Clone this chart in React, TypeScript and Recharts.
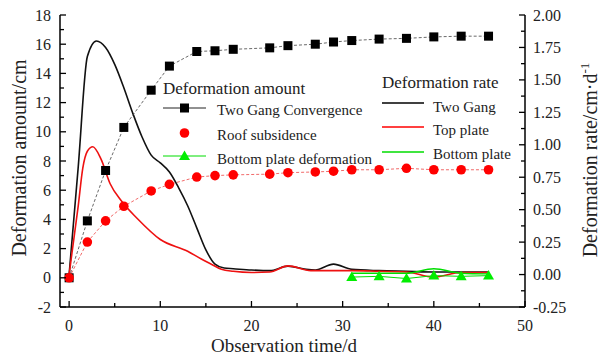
import { LineChart, Line, XAxis, YAxis } from "recharts"

document.body.style.margin = "0"

// measured deformation (left axis, cm)
const measureDays = [0, 2, 4, 6, 9, 11, 14, 16, 18, 22, 24, 27, 29, 31, 34, 37, 40, 43, 46]
const twoGangConvergence = [0, 3.9, 7.35, 10.3, 12.85, 14.5, 15.5, 15.55, 15.65, 15.75, 15.9, 16.0, 16.15, 16.25, 16.35, 16.4, 16.5, 16.55, 16.55]
const roofSubsidence = [0, 2.45, 3.9, 4.9, 5.95, 6.4, 6.9, 7.0, 7.05, 7.1, 7.2, 7.25, 7.3, 7.4, 7.4, 7.5, 7.4, 7.4, 7.4]
const bottomDays = [31, 34, 37, 40, 43, 46]
const bottomDeformation = [0.05, 0.1, -0.05, 0.15, 0.1, 0.15]

// deformation rate (right axis, cm/d)
const gangRateDays = [0, 1, 2, 3, 4, 5, 6, 7, 8, 9, 10, 11, 12, 13, 14, 15, 16, 17, 18, 20, 22, 24, 26, 27, 29, 31, 34, 37, 40, 43, 46]
const gangRate = [0, 0.83, 1.68, 1.8, 1.75, 1.62, 1.44, 1.24, 1.06, 0.92, 0.86, 0.79, 0.67, 0.53, 0.36, 0.19, 0.08, 0.05, 0.045, 0.035, 0.03, 0.065, 0.04, 0.035, 0.08, 0.04, 0.03, 0.025, 0.02, 0.02, 0.02]
const topRateDays = [0, 1, 1.5, 2, 2.6, 3.5, 4.5, 5.7, 7.5, 10, 13, 14.5, 15.6, 16.7, 18, 20, 22, 24, 26.5, 29, 31, 34, 37, 40, 43, 46]
const topRate = [0, 0.53, 0.82, 0.95, 0.985, 0.89, 0.7, 0.57, 0.43, 0.27, 0.18, 0.12, 0.08, 0.04, 0.025, 0.016, 0.02, 0.067, 0.03, 0.03, 0.03, 0.025, 0.02, -0.02, 0.016, 0.016]
const bottomRateDays = [31, 34, 37, 40, 43, 46]
const bottomRate = [0.01, 0.01, 0.01, 0.045, 0.01, 0.005]

// ticks
const xMajor = [0, 10, 20, 30, 40, 50]
const xTicks = [0, 5, 10, 15, 20, 25, 30, 35, 40, 45, 50]
const leftMajor = [-2, 0, 2, 4, 6, 8, 10, 12, 14, 16, 18]
const leftTicks = [-2, -1, 0, 1, 2, 3, 4, 5, 6, 7, 8, 9, 10, 11, 12, 13, 14, 15, 16, 17, 18]
const rightMajor = [-0.25, 0, 0.25, 0.5, 0.75, 1, 1.25, 1.5, 1.75, 2]
const rightTicks = [-0.25, -0.125, 0, 0.125, 0.25, 0.375, 0.5, 0.625, 0.75, 0.875, 1, 1.125, 1.25, 1.375, 1.5, 1.625, 1.75, 1.875, 2]

const pair = (xs: number[], ys: number[]) => xs.map((d, i) => ({ day: d, v: ys[i] }))

const convData = pair(measureDays, twoGangConvergence)
const roofData = pair(measureDays, roofSubsidence)
const bottomData = pair(bottomDays, bottomDeformation)
const gangRateData = pair(gangRateDays, gangRate)
const topRateData = pair(topRateDays, topRate)
const bottomRateData = pair(bottomRateDays, bottomRate)

const FONT = "'Liberation Serif', 'Times New Roman', serif"

function XTick({ x, y, payload }: any) {
  const major = xMajor.includes(payload.value)
  return (
    <g>
      <line x1={x} x2={x} y1={y} y2={y - (major ? 6 : 4)} stroke="#000" strokeWidth={1.3} />
      {major && (
        <text x={x} y={y + 24} textAnchor="middle" fontFamily={FONT} fontSize={16} fill="#222">
          {payload.value}
        </text>
      )}
    </g>
  )
}

function LeftTick({ x, y, payload }: any) {
  const major = leftMajor.includes(payload.value)
  return (
    <g>
      <line x1={x} x2={x + (major ? 6 : 4)} y1={y} y2={y} stroke="#000" strokeWidth={1.3} />
      {major && (
        <text x={x - 9} y={y + 5.5} textAnchor="end" fontFamily={FONT} fontSize={16} fill="#222">
          {payload.value}
        </text>
      )}
    </g>
  )
}

function RightTick({ x, y, payload }: any) {
  const major = rightMajor.includes(payload.value)
  return (
    <g>
      <line x1={x} x2={x - (major ? 6 : 4)} y1={y} y2={y} stroke="#000" strokeWidth={1.3} />
      {major && (
        <text x={x + 8} y={y + 5.5} textAnchor="start" fontFamily={FONT} fontSize={16} fill="#222">
          {payload.value.toFixed(2)}
        </text>
      )}
    </g>
  )
}

const squareDot = (p: any) => (
  <rect key={`s${p.index}`} x={p.cx - 4.5} y={p.cy - 4.5} width={9} height={9} fill="#000" />
)
const circleDot = (p: any) => (
  <circle key={`c${p.index}`} cx={p.cx} cy={p.cy} r={4.8} fill="#ff0000" />
)
const triangleDot = (p: any) => (
  <polygon
    key={`t${p.index}`}
    points={`${p.cx},${p.cy - 5.5} ${p.cx - 5.5},${p.cy + 4} ${p.cx + 5.5},${p.cy + 4}`}
    fill="#00ee00"
  />
)

function Overlay() {
  const t = { fontFamily: FONT, fill: "#222" }
  return (
    <svg width={600} height={360} style={{ position: "absolute", left: 0, top: 0, pointerEvents: "none" }}>
      {/* axis titles */}
      <text {...t} x={284} y={352} fontSize={19} textAnchor="middle">Observation time/d</text>
      <text {...t} x={26} y={158} fontSize={20} textAnchor="middle" transform="rotate(-90 26 158)">
        Deformation amount/cm
      </text>
      <text {...t} x={597} y={160} fontSize={20} textAnchor="middle" transform="rotate(-90 597 160)">
        Deformation rate/cm·d<tspan fontSize={13} dy={-8}>-1</tspan>
      </text>

      {/* left legend */}
      <text {...t} x={163} y={94} fontSize={17}>Deformation amount</text>
      <line x1={163} x2={206} y1={108} y2={108} stroke="#222" strokeWidth={1} />
      <rect x={180} y={103.5} width={9} height={9} fill="#000" />
      <text {...t} x={217} y={115} fontSize={15}>Two Gang Convergence</text>
      <circle cx={184.5} cy={133} r={4.8} fill="#ff0000" />
      <text {...t} x={217} y={140} fontSize={15}>Roof subsidence</text>
      <line x1={163} x2={206} y1={156} y2={156} stroke="#00dd00" strokeWidth={1} />
      <polygon points="184.5,150.5 179,160 190,160" fill="#00ee00" />
      <text {...t} x={217} y={164} fontSize={15}>Bottom plate deformation</text>

      {/* right legend */}
      <text {...t} x={382} y={88} fontSize={17}>Deformation rate</text>
      <line x1={382} x2={424} y1={103} y2={103} stroke="#000" strokeWidth={1.5} />
      <text {...t} x={433} y={112} fontSize={15}>Two Gang</text>
      <line x1={382} x2={424} y1={127} y2={127} stroke="#ff0000" strokeWidth={1.5} />
      <text {...t} x={433} y={135} fontSize={15}>Top plate</text>
      <line x1={382} x2={424} y1={152} y2={152} stroke="#00dd00" strokeWidth={1.5} />
      <text {...t} x={433} y={159} fontSize={15}>Bottom plate</text>
    </svg>
  )
}

export default function App() {
  return (
    <div style={{ position: "relative", width: 600, height: 360, background: "#fff" }}>
      <LineChart width={600} height={360} margin={{ top: 15, right: 35, left: 20, bottom: 23 }}>
        <XAxis
          dataKey="day"
          type="number"
          domain={[-1, 50]}
          ticks={xTicks}
          interval={0}
          tickSize={0}
          tickMargin={0}
          tickLine={false}
          tick={<XTick />}
          height={30}
          axisLine={{ stroke: "#000", strokeWidth: 1.5 }}
          allowDuplicatedCategory={false}
        />
        <YAxis
          yAxisId="left"
          type="number"
          domain={[-2, 18]}
          ticks={leftTicks}
          interval={0}
          tickSize={0}
          tickMargin={0}
          tickLine={false}
          tick={<LeftTick />}
          width={40}
          axisLine={{ stroke: "#000", strokeWidth: 1.5 }}
        />
        <YAxis
          yAxisId="right"
          orientation="right"
          type="number"
          domain={[-0.25, 2]}
          ticks={rightTicks}
          interval={0}
          tickSize={0}
          tickMargin={0}
          tickLine={false}
          tick={<RightTick />}
          width={40}
          axisLine={{ stroke: "#000", strokeWidth: 1.5 }}
        />

        <Line yAxisId="right" data={gangRateData} dataKey="v" type="monotone" stroke="#111" strokeWidth={1.6} dot={false} isAnimationActive={false} />
        <Line yAxisId="right" data={topRateData} dataKey="v" type="monotone" stroke="#ee1111" strokeWidth={1.6} dot={false} isAnimationActive={false} />
        <Line yAxisId="right" data={bottomRateData} dataKey="v" type="monotone" stroke="#00dd00" strokeWidth={1.4} dot={false} isAnimationActive={false} />

        <Line yAxisId="left" data={convData} dataKey="v" type="linear" stroke="#444" strokeWidth={0.8} strokeDasharray="3 2" dot={squareDot} isAnimationActive={false} />
        <Line yAxisId="left" data={roofData} dataKey="v" type="linear" stroke="#ee4444" strokeWidth={0.8} strokeDasharray="3 2" dot={circleDot} isAnimationActive={false} />
        <Line yAxisId="left" data={bottomData} dataKey="v" type="linear" stroke="#00dd00" strokeWidth={1} dot={triangleDot} isAnimationActive={false} />
      </LineChart>
      <Overlay />
    </div>
  )
}
